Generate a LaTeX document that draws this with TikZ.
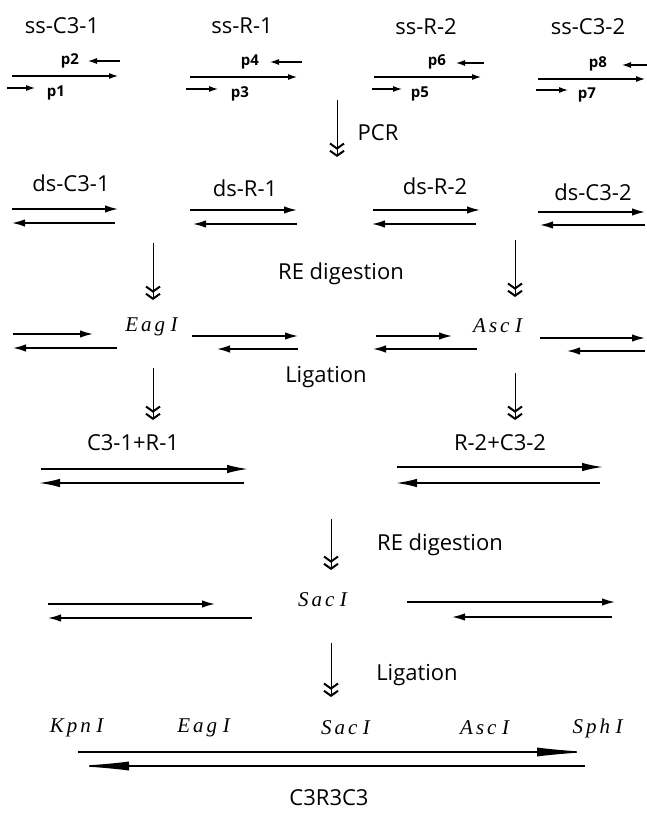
\documentclass[tikz,border=0pt]{standalone}
\usepackage{fontspec}
\setmainfont{Liberation Serif}
\newfontfamily\labelfont{Open Sans}
\usetikzlibrary{arrows.meta}

% restriction site, letter spaced
\newcommand{\site}[3]{\textit{#1\kern3pt#2\kern3pt#3\kern5.5pt I}}

\tikzset{
  lbl/.style={font=\labelfont\fontsize{22}{24}\selectfont, inner sep=0pt},
  plbl/.style={font=\labelfont\bfseries\fontsize{15}{17}\selectfont, inner sep=0pt},
  enz/.style={font=\fontsize{21}{23}\selectfont, inner sep=0pt},
  primer/.style={line width=1.1pt, -{Latex[length=9pt,width=6pt]}},
  strand/.style={line width=1.5pt, -{Latex[length=13pt,width=7.5pt]}},
  longstrand/.style={line width=1.6pt, -{Latex[length=21pt,width=8.5pt]}},
  fullstrand/.style={line width=1.4pt, -{Latex[length=52pt,width=9pt]}},
  stepflow/.style={line width=1pt,
    -{Straight Barb[length=5pt,width=14pt,line width=2pt,sep=0pt]Straight Barb[length=5pt,width=14pt,line width=2pt]}},
}

\begin{document}
\begin{tikzpicture}[x=1pt, y=-1pt]
  \fill[white] (0,0) rectangle (647,813);
  \useasboundingbox (0,0) rectangle (647,813);

  % single strands with primers
  \node[lbl] (ssc1) at (62,26) {ss-C3-1};
  \node[lbl] (ssr1) at (242,26) {ss-R-1};
  \node[lbl] (ssr2) at (426,27) {ss-R-2};
  \node[lbl] (ssc2) at (588,27) {ss-C3-2};

  \node[plbl] (p2) at (70,61) {p2};
  \node[plbl] (p1) at (56,93) {p1};
  \node[plbl] (p4) at (250,62) {p4};
  \node[plbl] (p3) at (240,94) {p3};
  \node[plbl] (p6) at (437,62) {p6};
  \node[plbl] (p5) at (420,94) {p5};
  \node[plbl] (p8) at (598,64) {p8};
  \node[plbl] (p7) at (587,95) {p7};

  \draw[primer] (120,61) -- (88,61);
  \draw[primer] (12,76) -- (118,76);
  \draw[primer] (7,88) -- (35,88);
  \draw[primer] (302,62) -- (270,62);
  \draw[primer] (190,77) -- (297,77);
  \draw[primer] (186,89) -- (218,89);
  \draw[primer] (484,63) -- (456,63);
  \draw[primer] (374,77) -- (481,77);
  \draw[primer] (372,89) -- (402,89);
  \draw[primer] (647,65) -- (622,65);
  \draw[primer] (538,79) -- (645,79);
  \draw[primer] (536,90) -- (568,90);

  % PCR
  \coordinate (pcrtop) at (337,100);
  \coordinate (pcrbot) at (337,157);
  \draw[stepflow] (pcrtop) -- (pcrbot);
  \node[lbl] (pcr) at (378,133) {PCR};

  % double strands
  \node[lbl] (dsc1) at (71,183) {ds-C3-1};
  \node[lbl] (dsr1) at (245,188) {ds-R-1};
  \node[lbl] (dsr2) at (435,186) {ds-R-2};
  \node[lbl] (dsc2) at (593,192) {ds-C3-2};

  \draw[strand] (12,209) -- (118,209);
  \draw[strand] (115,223) -- (12,223);
  \draw[strand] (190,210) -- (297,210);
  \draw[strand] (297,224) -- (193,224);
  \draw[strand] (373,210) -- (480,210);
  \draw[strand] (476,224) -- (372,224);
  \draw[strand] (538,212) -- (645,212);
  \draw[strand] (645,225) -- (540,225);

  % first digestion
  \coordinate (dig1a) at (153,243);
  \coordinate (dig1b) at (153,300);
  \coordinate (dig2a) at (515,240);
  \coordinate (dig2b) at (515,297);
  \draw[stepflow] (dig1a) -- (dig1b);
  \draw[stepflow] (dig2a) -- (dig2b);
  \node[lbl] (redig1) at (341,274) {RE digestion};

  \node[enz] (eag) at (152,327) {\site{E}{a}{g}};
  \node[enz] (asc) at (498,326) {\site{A}{s}{c}};

  \draw[strand] (13,334) -- (93,334);
  \draw[strand] (117,348) -- (13,348);
  \draw[strand] (192,336) -- (298,336);
  \draw[strand] (298,349) -- (217,349);
  \draw[strand] (376,336) -- (452,336);
  \draw[strand] (477,349) -- (373,349);
  \draw[strand] (540,338) -- (645,338);
  \draw[strand] (645,351) -- (567,351);

  % first ligation
  \coordinate (lig1a) at (153,368);
  \coordinate (lig1b) at (153,420);
  \coordinate (lig2a) at (515,373);
  \coordinate (lig2b) at (515,420);
  \draw[stepflow] (lig1a) -- (lig1b);
  \draw[stepflow] (lig2a) -- (lig2b);
  \node[lbl] (liga1) at (326,377) {Ligation};

  \node[lbl] (cr) at (133,443) {C3-1+R-1};
  \node[lbl] (rc) at (500,443) {R-2+C3-2};

  \draw[longstrand] (41,469) -- (248,469);
  \draw[longstrand] (244,483) -- (39,483);
  \draw[longstrand] (397,467) -- (603,467);
  \draw[longstrand] (600,483) -- (396,483);

  % second digestion
  \coordinate (dig3a) at (331,519);
  \coordinate (dig3b) at (331,570);
  \draw[stepflow] (dig3a) -- (dig3b);
  \node[lbl] (redig2) at (440,545) {RE digestion};

  \node[enz] (sac) at (323,600) {\site{S}{a}{c}};

  \draw[strand] (48,604) -- (215,604);
  \draw[strand] (252,618) -- (48,618);
  \draw[strand] (407,602) -- (615,602);
  \draw[strand] (612,617) -- (452,617);

  % second ligation
  \coordinate (lig3a) at (331,643);
  \coordinate (lig3b) at (331,697);
  \draw[stepflow] (lig3a) -- (lig3b);
  \node[lbl] (liga2) at (417,675) {Ligation};

  % final construct
  \node[enz] (kpn) at (77,728) {\site{K}{p}{n}};
  \node[enz] (eag2) at (204,728) {\site{E}{a}{g}};
  \node[enz] (sac2) at (346,728) {\site{S}{a}{c}};
  \node[enz] (asc2) at (485,728) {\site{A}{s}{c}};
  \node[enz] (sph) at (598,728) {\site{S}{p}{h}};

  \draw[fullstrand] (78,752) -- (589,752);
  \draw[fullstrand] (585,766) -- (77,766);

  \node[lbl] (c3r3c3) at (329,798) {C3R3C3};
\end{tikzpicture}
\end{document}
